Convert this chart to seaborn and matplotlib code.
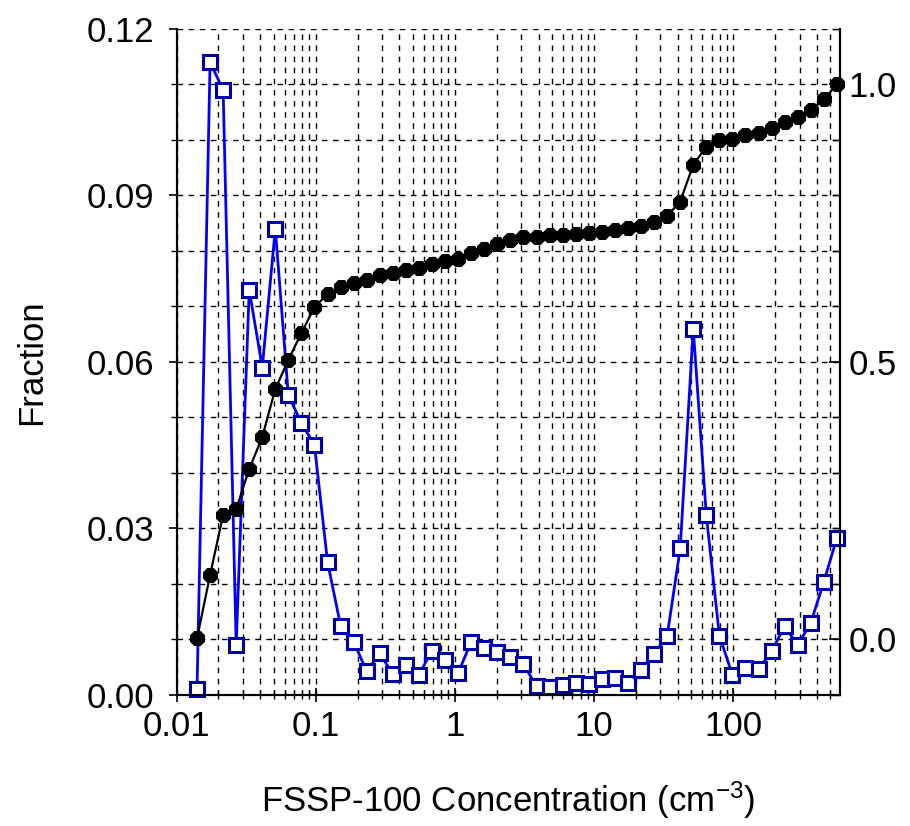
import numpy as np
import pandas as pd
import matplotlib
matplotlib.use("Agg")
import matplotlib.pyplot as plt
import seaborn as sns
from matplotlib.ticker import FixedLocator, MultipleLocator, LogLocator, NullFormatter, FixedFormatter

## data

conc = [0.01403, 0.01742, 0.02162, 0.02683, 0.03329, 0.04131, 0.05126, 0.06362, 0.07895, 0.09797,
        0.1216, 0.1509, 0.1873, 0.2324, 0.2884, 0.3579, 0.4442, 0.5512, 0.6840, 0.8489,
        1.053, 1.312, 1.628, 2.021, 2.508, 3.112, 3.864, 4.797, 5.955, 7.390,
        9.172, 11.38, 14.13, 17.54, 21.77, 27.02, 33.53, 41.62, 51.66, 64.12,
        79.58, 98.76, 122.6, 152.2, 188.9, 234.4, 291.0, 361.2, 448.3, 556.4]

fraction = [0.001, 0.114, 0.109, 0.009, 0.073, 0.059, 0.084, 0.054, 0.049, 0.045,
            0.024, 0.0125, 0.0096, 0.0043, 0.0075, 0.0038, 0.0054, 0.0036, 0.0080, 0.0063,
            0.0039, 0.0096, 0.0085, 0.0077, 0.0069, 0.0055, 0.0016, 0.0014, 0.0018, 0.0021,
            0.0019, 0.0029, 0.0030, 0.0021, 0.0045, 0.0074, 0.0106, 0.0264, 0.066, 0.0324,
            0.0107, 0.0036, 0.0048, 0.0046, 0.0079, 0.0124, 0.0090, 0.0130, 0.0204, 0.0283]

cumulative = [0.002, 0.116, 0.225, 0.235, 0.307, 0.365, 0.451, 0.504, 0.552, 0.599,
              0.622, 0.635, 0.643, 0.648, 0.657, 0.660, 0.665, 0.669, 0.676, 0.682,
              0.686, 0.697, 0.704, 0.712, 0.719, 0.725, 0.726, 0.728, 0.729, 0.731,
              0.732, 0.735, 0.738, 0.742, 0.745, 0.752, 0.763, 0.789, 0.855, 0.888,
              0.900, 0.902, 0.909, 0.912, 0.921, 0.932, 0.941, 0.954, 0.973, 1.000]

x_ticks = [0.01, 0.1, 1, 10, 100]
x_ticklabels = ["0.01", "0.1", "1", "10", "100"]
left_ticks = [0.00, 0.03, 0.06, 0.09, 0.12]
left_ticklabels = ["0.00", "0.03", "0.06", "0.09", "0.12"]
right_ticks = [0.0, 0.5, 1.0]
right_ticklabels = ["0.0", "0.5", "1.0"]

df = pd.DataFrame({"conc": conc, "fraction": fraction, "cumulative": cumulative})

## style

sns.set_style("white")
plt.rcParams["font.family"] = ["Liberation Sans", "DejaVu Sans"]
plt.rcParams["mathtext.default"] = "regular"
plt.rcParams["text.color"] = "black"
plt.rcParams["axes.labelcolor"] = "black"
plt.rcParams["xtick.color"] = "black"
plt.rcParams["ytick.color"] = "black"
fs = 25

fig = plt.figure(figsize=(9.1, 8.26), dpi=100)
ax = fig.add_axes([0.194, 0.1586, 0.729, 0.8064])
ax2 = ax.twinx()

## fraction (left axis)

sns.lineplot(data=df, x="conc", y="fraction", ax=ax, color="#0000FF", lw=2.0,
             marker="s", markersize=10.5, markerfacecolor="white",
             markeredgecolor="#0000A8", markeredgewidth=2.2, zorder=3, clip_on=False)

## cumulative (right axis)

sns.lineplot(data=df, x="conc", y="cumulative", ax=ax2, color="black", lw=1.6,
             marker="8", markersize=10.5, markerfacecolor="black",
             markeredgecolor="black", zorder=3, clip_on=False)

ax.set_xscale("log")
ax.set_xlim(0.01, 585)
ax.set_ylim(0, 0.12)
ax2.set_ylim(-0.1, 1.1)

ax.xaxis.set_major_locator(FixedLocator(x_ticks))
ax.xaxis.set_major_formatter(FixedFormatter(x_ticklabels))
ax.xaxis.set_minor_locator(LogLocator(base=10, subs=np.arange(2, 10), numticks=20))
ax.xaxis.set_minor_formatter(NullFormatter())

ax.yaxis.set_major_locator(FixedLocator(left_ticks))
ax.yaxis.set_major_formatter(FixedFormatter(left_ticklabels))
ax.yaxis.set_minor_locator(MultipleLocator(0.01))

ax2.yaxis.set_major_locator(FixedLocator(right_ticks))
ax2.yaxis.set_major_formatter(FixedFormatter(right_ticklabels))
ax2.yaxis.set_minor_locator(MultipleLocator(0.1))

ax.grid(which="both", axis="both", color="black", linestyle=(0, (4, 4)), linewidth=1)
ax.set_axisbelow(True)

for a in (ax, ax2):
    for s in a.spines.values():
        s.set_color("black")
        s.set_linewidth(1.5)
    a.spines["top"].set_visible(False)

ax.tick_params(axis="x", which="major", direction="inout", length=10, width=1.2, pad=6,
               labelsize=fs, bottom=True)
ax.tick_params(axis="x", which="minor", direction="inout", length=6, width=1.0, bottom=True)
ax.tick_params(axis="y", which="major", direction="out", length=6, width=1.2, pad=10,
               labelsize=fs, left=True)
ax.tick_params(axis="y", which="minor", direction="out", length=4, width=1.0, left=True)
ax2.tick_params(axis="y", which="major", direction="in", length=8, width=1.2, pad=6,
                labelsize=fs, right=True)
ax2.tick_params(axis="y", which="minor", direction="in", length=6, width=1.0, right=True)

ax.set_xlabel("FSSP-100 Concentration (cm$^{-3}$)", fontsize=fs, labelpad=26)
ax.set_ylabel("Fraction", fontsize=fs, labelpad=28)
ax2.set_ylabel("")

fig.savefig("out.png", dpi=100)
